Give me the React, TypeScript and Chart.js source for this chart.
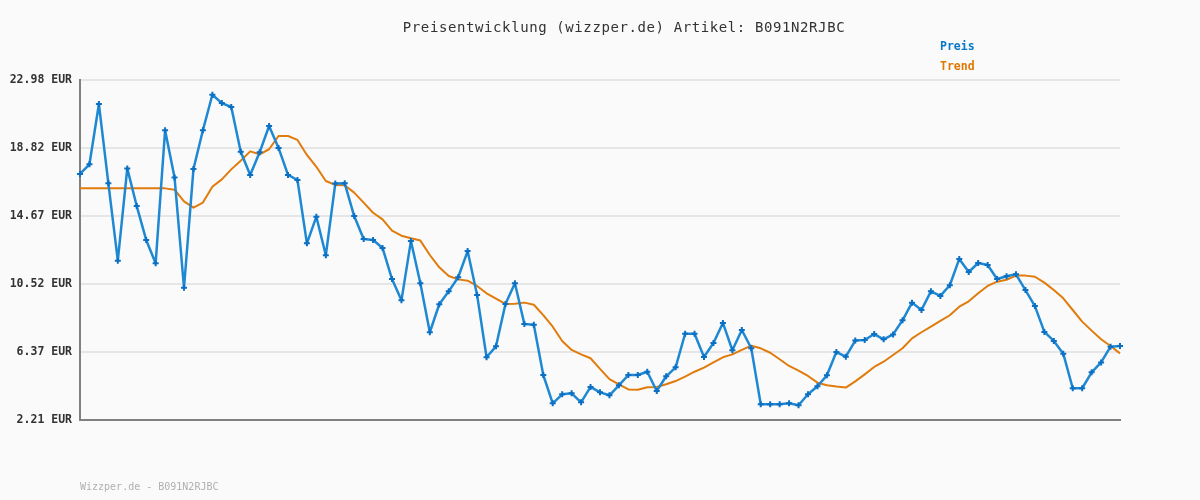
import React, { useEffect, useRef } from "react";
import { Chart, registerables } from "chart.js";

Chart.register(...registerables);

const TITLE = "Preisentwicklung (wizzper.de) Artikel: B091N2RJBC";
const FOOTER = "Wizzper.de - B091N2RJBC";
const SERIES_NAMES = ["Preis", "Trend"];

const yTicks = [2.21, 6.37, 10.52, 14.67, 18.82, 22.98];

const prices = [
  17.24, 17.83, 21.51, 16.67, 11.94, 17.58, 15.28, 13.21, 11.78, 19.91,
  17.03, 10.29, 17.54, 19.91, 22.08, 21.57, 21.33, 18.6, 17.18, 18.56,
  20.17, 18.83, 17.18, 16.87, 13.0, 14.63, 12.27, 16.65, 16.67, 14.67,
  13.27, 13.21, 12.72, 10.82, 9.52, 13.14, 10.56, 7.57, 9.28, 10.07,
  10.93, 12.53, 9.85, 6.04, 6.71, 9.3, 10.56, 8.07, 8.03, 4.96,
  3.23, 3.78, 3.84, 3.29, 4.23, 3.9, 3.72, 4.33, 4.96, 4.96,
  5.16, 3.98, 4.88, 5.43, 7.48, 7.48, 6.06, 6.91, 8.14, 6.47,
  7.71, 6.59, 3.17, 3.17, 3.17, 3.23, 3.11, 3.78, 4.27, 4.94,
  6.36, 6.08, 7.06, 7.1, 7.46, 7.14, 7.44, 8.3, 9.38, 8.93,
  10.07, 9.79, 10.44, 12.05, 11.25, 11.8, 11.68, 10.82, 10.99, 11.11,
  10.15, 9.17, 7.59, 7.04, 6.26, 4.15, 4.15, 5.12, 5.73, 6.69,
  6.73,
];

const trend = [
  16.36, 16.36, 16.36, 16.36, 16.36, 16.36, 16.36, 16.36, 16.36, 16.36,
  16.28, 15.57, 15.18, 15.49, 16.46, 16.91, 17.52, 18.05, 18.62, 18.44,
  18.75, 19.56, 19.56, 19.32, 18.4, 17.68, 16.81, 16.57, 16.55, 16.1,
  15.49, 14.87, 14.47, 13.78, 13.47, 13.31, 13.17, 12.29, 11.54, 11.01,
  10.8, 10.72, 10.4, 9.95, 9.62, 9.3, 9.31, 9.38, 9.25, 8.62,
  7.91, 7.04, 6.49, 6.22, 5.98, 5.33, 4.71, 4.39, 4.08, 4.06,
  4.21, 4.23, 4.39, 4.59, 4.86, 5.16, 5.41, 5.73, 6.04, 6.22,
  6.49, 6.75, 6.59, 6.32, 5.92, 5.51, 5.22, 4.9, 4.49, 4.33,
  4.25, 4.19, 4.57, 5.0, 5.45, 5.77, 6.18, 6.59, 7.2, 7.57,
  7.91, 8.26, 8.61, 9.13, 9.46, 9.95, 10.4, 10.66, 10.78, 11.03,
  11.03, 10.96, 10.6, 10.15, 9.64, 8.93, 8.22, 7.67, 7.14, 6.73,
  6.28,
];

const categories = prices.map((_, i) => String(i + 1));

const BLUE_LINE = "#1f88d3";
const BLUE_POINT = "#0b70c4";
const BLUE_TEXT = "#0a78c8";
const ORANGE = "#e07b0c";
const ORANGE_TEXT = "#e07800";
const BG = "#fafafa";

const decorPlugin = {
  id: "decor",
  beforeDraw(chart: any) {
    const ctx = chart.ctx;
    ctx.save();
    ctx.fillStyle = BG;
    ctx.fillRect(0, 0, chart.width, chart.height);
    ctx.restore();
  },
  afterDraw(chart: any) {
    const ctx = chart.ctx;
    ctx.save();
    ctx.textBaseline = "middle";
    ctx.textAlign = "center";
    ctx.fillStyle = "#333333";
    ctx.font = "14px 'DejaVu Sans Mono'";
    try { (ctx as any).letterSpacing = "0.6px"; } catch (e) {}
    ctx.fillText(TITLE, 624, 28);
    try { (ctx as any).letterSpacing = "0px"; } catch (e) {}
    ctx.textAlign = "left";
    ctx.font = "bold 11.5px 'DejaVu Sans Mono'";
    ctx.fillStyle = BLUE_TEXT;
    ctx.fillText(SERIES_NAMES[0], 940, 47);
    ctx.fillStyle = ORANGE_TEXT;
    ctx.fillText(SERIES_NAMES[1], 940, 67);
    ctx.font = "10px 'DejaVu Sans Mono'";
    ctx.fillStyle = "#b0b0b0";
    ctx.fillText(FOOTER, 80, 487);
    ctx.restore();
  },
};

export default function App() {
  const ref = useRef<HTMLCanvasElement | null>(null);

  useEffect(() => {
    if (!ref.current) return;
    const chart = new Chart(ref.current, {
      type: "line",
      data: {
        labels: categories,
        datasets: [
          {
            label: SERIES_NAMES[0],
            data: prices,
            borderColor: BLUE_LINE,
            borderWidth: 2.5,
            borderJoinStyle: "round",
            borderCapStyle: "round",
            pointStyle: "cross",
            pointRadius: 3,
            pointBorderWidth: 2,
            pointBorderColor: BLUE_POINT,
            pointBackgroundColor: BLUE_POINT,
            tension: 0,
            fill: false,
            clip: false as any,
            order: 1,
          },
          {
            label: SERIES_NAMES[1],
            data: trend,
            borderColor: ORANGE,
            borderWidth: 2,
            borderJoinStyle: "round",
            pointRadius: 0,
            tension: 0,
            fill: false,
            clip: false as any,
            order: 2,
          },
        ],
      },
      options: {
        responsive: false,
        animation: false,
        layout: { padding: { left: 0, right: 80, top: 80, bottom: 80 } },
        plugins: {
          legend: { display: false },
          title: { display: false },
          tooltip: { enabled: false },
        },
        scales: {
          x: {
            type: "category",
            offset: false,
            grid: { display: false, drawTicks: false },
            border: { display: true, color: "#808080", width: 2 },
            ticks: { display: false },
            afterFit: (scale: any) => {
              scale.height = 0;
            },
          },
          y: {
            min: 2.21,
            max: 22.98,
            grid: { color: "#e6e6e6", lineWidth: 2, drawTicks: false },
            border: { display: true, color: "#808080", width: 2 },
            afterBuildTicks: (scale: any) => {
              scale.ticks = yTicks.map((v) => ({ value: v }));
            },
            ticks: {
              padding: 8,
              color: "#333333",
              font: { family: "'DejaVu Sans Mono'", size: 11.5, weight: "bold" },
              callback: (v: any) => Number(v).toFixed(2) + " EUR",
            },
            afterFit: (scale: any) => {
              scale.width = 80;
            },
          },
        },
      },
      plugins: [decorPlugin],
    });
    return () => chart.destroy();
  }, []);

  return (
    <div style={{ position: "absolute", left: 0, top: 0, width: 1200, height: 500, background: BG }}>
      <canvas ref={ref} width={1200} height={500} style={{ width: 1200, height: 500, display: "block" }} />
    </div>
  );
}
